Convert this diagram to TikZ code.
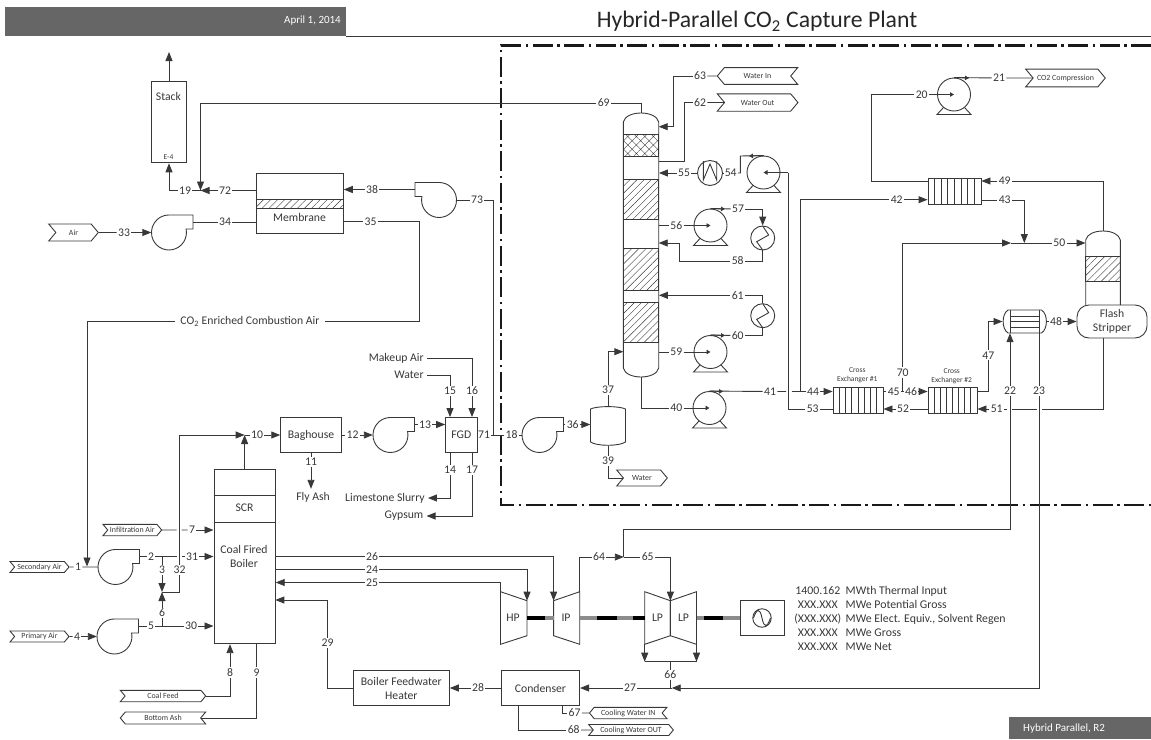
\documentclass[tikz,border=0pt]{standalone}
\usepackage{fontspec}
\setmainfont{Carlito}
\usepackage{xcolor}
\usetikzlibrary{arrows.meta, calc, positioning, shapes.symbols, patterns.meta}
\definecolor{linegray}{HTML}{383838}
\definecolor{headgray}{HTML}{666666}
\tikzstyle{pipe} = [line width=0.9pt, color=linegray]
\tikzstyle{arrow} = [pipe,-{Stealth[length=9pt,width=7pt,inset=0pt]}]
\tikzstyle{smallarrow} = [pipe,-{Stealth[length=4pt,width=4.5pt,inset=0pt]}]
\tikzset{
  eq/.style      = {draw = linegray, line width = 0.9pt, inner sep = 0pt, text = linegray},
  txt/.style     = {inner sep = 3pt, align = center, text = linegray, font = \fontsize{11.7}{14}\selectfont},
  num/.style     = {inner sep = 1.2pt, text = linegray, font = \fontsize{11.7}{14}\selectfont},
  tinytxt/.style = {inner sep = 0pt, align = center, text = linegray, font = \fontsize{7.5}{9}\selectfont},
  tagR/.style    = {eq, signal, signal to = east, signal from = west, signal pointer angle = 100,
                    font = \fontsize{7.9}{10}\selectfont},
  tagL/.style    = {eq, signal, signal to = west, signal from = east, signal pointer angle = 100,
                    font = \fontsize{7.9}{10}\selectfont},
  bed/.style     = {eq, pattern = {Lines[angle=45,distance=5pt,line width=0.4pt]}, pattern color = linegray},
  hxcirc/.style  = {eq, circle, minimum size = 24pt},
  shaftg/.style  = {line width = 3.2pt, color = black!45},
  shaftb/.style  = {line width = 3.2pt, color = black},
  fanR/.pic      = {
    \node[circle, minimum size = 35pt, inner sep = 0pt] (-c) {};
    \coordinate (-out) at (24,-10.5);
    \draw[pipe] (0,-17.5) -- (24,-17.5) -- (24,-3.5) -- (17.1,-3.5) arc (-11.5:270:17.5);
  },
  fanL/.pic      = {
    \node[circle, minimum size = 35pt, inner sep = 0pt] (-c) {};
    \coordinate (-out) at (-24,-10.5);
    \draw[pipe] (0,-17.5) -- (-24,-17.5) -- (-24,-3.5) -- (-17.1,-3.5) arc (191.5:-90:17.5);
  },
  pump/.pic      = {
    \node[eq, circle, minimum size = 33pt] (-c) {};
    \draw[pipe] (-10.5,13) -- (-17,20) -- (17,20) -- (10.5,13);
  }
}

\begin{document}
\begin{tikzpicture}[x=1pt,y=-1pt]
\useasboundingbox (0,0) rectangle (1151,739);

% Header and footer
\fill[headgray] (5,7) rectangle (346,36);
\draw[pipe] (346,36) -- (1151,36);
\node[anchor=east, inner sep=0pt, text=white, font=\fontsize{11}{13}\selectfont] (date) at (341,21) {April 1, 2014};
\node[inner sep=0pt, text=black!85, font=\fontsize{23.7}{26}\selectfont] (title) at (757,21) {Hybrid-Parallel CO\textsubscript{2} Capture Plant};
\fill[headgray] (1009,717) rectangle (1151,739);
\node[anchor=west, inner sep=0pt, text=white, font=\fontsize{11}{13}\selectfont] (rev) at (1023,729) {Hybrid Parallel, R2};

% Capture island boundary
\draw[line width=2.4pt, color=black!90, dash pattern=on 20pt off 4.5pt on 2.5pt off 4.5pt] (1151,45.3) -- (501,45.3) -- (501,504.7) -- (1151,504.7);

% Stack
\node[eq, minimum width=35.2pt, minimum height=81.7pt] (stack) at (169,122) {};
\node[txt] (stacktxt) at (168.5,96) {Stack};
\node[tinytxt] (e4) at (168.5,157) {E-4};
\coordinate (stackout) at (169,52);
\draw[arrow] (stack.north) -- (stackout);

% Membrane
\node[eq, minimum width=87pt, minimum height=60.4pt] (mem) at (299.8,203.5) {};
\node[bed, minimum width=87pt, minimum height=9pt] (membed) at (299.8,203.8) {};
\node[txt] (memtxt) at (299.5,217) {Membrane};

% Fans
\pic (f33) at (169,232.5) {fanR};
\pic (f73) at (439,200) {fanL};
\pic (f2) at (115.5,567) {fanR};
\pic (f5) at (114.5,636.5) {fanR};
\pic (f13) at (390.5,435) {fanR};
\pic (f36) at (539.5,435) {fanR};

% Absorber column
\node[inner sep=0pt, minimum width=35.4pt, minimum height=264pt] (abs) at (641,245) {};
\draw[pipe] (623.3,122) .. controls (626,110) and (656,110) .. (658.7,122) -- (658.7,368) .. controls (656,380) and (626,380) .. (623.3,368) -- cycle;
\node[eq, minimum width=35.4pt, minimum height=22pt, pattern={Hatch[angle=45,distance=6pt,line width=0.4pt]}, pattern color=linegray] (bed1) at (641,145) {};
\node[bed, minimum width=35.4pt, minimum height=40pt] (bed2) at (641,199) {};
\node[bed, minimum width=35.4pt, minimum height=42pt] (bed3) at (641,269) {};
\node[bed, minimum width=35.4pt, minimum height=40pt] (bed4) at (641,322) {};

% Pumps
\pic (p54) at (763.5,172.5) {pump};
\pic (p56) at (710.5,225.5) {pump};
\pic (p59) at (710.5,352) {pump};
\pic (p40) at (709.5,408) {pump};
\pic (p20) at (954,94.5) {pump};

% Coolers
\node[hxcirc, minimum size=25pt] (hxw) at (710,173) {};
\draw[pipe] (703.3,161) -- (703.3,180) -- (710,164) -- (716.7,180) -- (716.7,161);
\node[hxcirc] (hx1) at (762.7,238) {};
\draw[pipe] (762.7,226) -- (768.7,235) -- (756.7,241.7) -- (762.7,250);
\node[hxcirc] (hx2) at (762.7,315.7) {};
\draw[pipe] (762.7,303.7) -- (768.7,312.7) -- (756.7,319.4) -- (762.7,327.7);

% Knock-out drum
\node[inner sep=0pt, minimum width=35pt, minimum height=38.6pt] (drum) at (608,426) {};
\draw[pipe] (590.5,409) .. controls (597,405.8) and (619,405.8) .. (625.5,409) -- (625.5,442) .. controls (619,446.4) and (597,446.4) .. (590.5,442) -- cycle;

% Cross exchangers
\node[eq, minimum width=50pt, minimum height=26pt] (x1) at (858,400) {};
\draw[pipe] (839.25,387) -- (839.25,413) (845.5,387) -- (845.5,413) (851.75,387) -- (851.75,413) (858,387) -- (858,413) (864.25,387) -- (864.25,413) (870.5,387) -- (870.5,413) (876.75,387) -- (876.75,413);
\node[tinytxt] (x1txt) at (857.3,375.7) {Cross\\Exchanger \#1};
\node[eq, minimum width=49pt, minimum height=26pt] (x2) at (952.5,400) {};
\draw[pipe] (934.1,387) -- (934.1,413) (940.3,387) -- (940.3,413) (946.4,387) -- (946.4,413) (952.5,387) -- (952.5,413) (958.6,387) -- (958.6,413) (964.8,387) -- (964.8,413) (970.9,387) -- (970.9,413);
\node[tinytxt] (x2txt) at (951.7,376) {Cross\\Exchanger \#2};
\node[eq, minimum width=53pt, minimum height=26pt] (x3) at (954.5,191) {};
\draw[pipe] (934.6,178) -- (934.6,204) (941.2,178) -- (941.2,204) (947.9,178) -- (947.9,204) (954.5,178) -- (954.5,204) (961.1,178) -- (961.1,204) (967.8,178) -- (967.8,204) (974.4,178) -- (974.4,204);

% Stripper
\node[inner sep=0pt, minimum width=34.6pt, minimum height=74pt] (strip) at (1103,268) {};
\draw[pipe] (1085.7,305) -- (1085.7,240) .. controls (1088,228) and (1118,228) .. (1120.3,240) -- (1120.3,305);
\node[bed, minimum width=34.6pt, minimum height=25.7pt] (bed5) at (1103,269) {};
\node[eq, txt, inner sep=0pt, rounded corners=12pt, minimum width=70pt, minimum height=33pt] (tank) at (1112,321.5) {Flash\\Stripper};

% Reboiler
\node[inner sep=0pt, minimum width=44pt, minimum height=23pt] (reb) at (1024.7,321.5) {};
\draw[pipe] (1008,310) -- (1041.5,310) .. controls (1048,314) and (1048,329) .. (1041.5,333) -- (1008,333) .. controls (1001.5,329) and (1001.5,314) .. (1008,310);
\draw[pipe] (1010.7,310) -- (1010.7,333) (1039,310) -- (1039,333) (1010.7,316) -- (1039,316) (1010.7,321.7) -- (1039,321.7) (1010.7,327) -- (1039,327);

% Boiler
\node[eq, minimum width=61.3pt, minimum height=174.4pt] (boil) at (244.6,556.5) {};
\draw[pipe] (boil.west |- 0,495.3) -- (boil.east |- 0,495.3) (boil.west |- 0,522.3) -- (boil.east |- 0,522.3);
\node[txt] (scr) at (244.5,508) {SCR};
\node[txt] (boiltxt) at (244,556.5) {Coal Fired\\Boiler};

% Flue gas train
\node[eq, txt, inner sep=0pt, minimum width=60.6pt, minimum height=34.6pt] (bag) at (311,435) {Baghouse};
\node[eq, txt, inner sep=0pt, minimum width=31.3pt, minimum height=35pt] (fgd) at (461.3,435) {FGD};

% Feedwater heater and condenser
\node[eq, txt, inner sep=0pt, minimum width=96pt, minimum height=34.6pt] (heater) at (401.3,688) {Boiler Feedwater\\Heater};
\node[eq, txt, inner sep=0pt, minimum width=78.3pt, minimum height=35pt] (cond) at (540.5,688) {Condenser};

% Turbines
\draw[pipe] (500.5,591.7) -- (527,600.7) -- (527,635.7) -- (500.5,644.3) -- cycle;
\node[txt] (hp) at (513,618) {HP};
\draw[pipe] (553.6,600.7) -- (579.7,591.7) -- (579.7,644.3) -- (553.6,635.7) -- cycle;
\node[txt] (ip) at (566,618) {IP};
\draw[pipe] (644.7,591.7) -- (670.4,600.7) -- (670.4,635.7) -- (644.7,644.3) -- cycle;
\node[txt] (lpa) at (657.5,618) {LP};
\draw[pipe] (696.5,591.7) -- (670.4,600.7) -- (670.4,635.7) -- (696.5,644.3) -- cycle;
\node[txt] (lpb) at (683.5,618) {LP};

% Shaft
\draw[shaftb] (527,618) -- (545,618);
\draw[shaftg] (545,618) -- (553.6,618);
\draw[shaftg] (579.7,618) -- (597,618);
\draw[shaftb] (597,618) -- (617,618);
\draw[shaftg] (617,618) -- (633,618);
\draw[shaftb] (633,618) -- (644.7,618);
\draw[shaftg] (696.5,618) -- (704,618);
\draw[shaftb] (704,618) -- (723,618);
\draw[shaftg] (723,618) -- (740.2,618);

% Generator
\node[eq, minimum width=44pt, minimum height=35.4pt] (gen) at (762.2,618) {};
\node[eq, circle, minimum size=18.5pt] (gencirc) at (762,618) {};
\draw[pipe] (753.5,618) .. controls (757,608) and (760,608) .. (762,618) .. controls (764,628) and (767,628) .. (770.5,618);

% Performance summary
\node[inner sep=0pt, text=linegray, font=\fontsize{11.8}{13.9}\selectfont] (perf) at (900,620) {%
\begin{tabular}{@{}c@{\hspace{4.5pt}}l@{}}
1400.162 & MWth Thermal Input\\
XXX.XXX & MWe Potential Gross\\
(XXX.XXX) & MWe Elect. Equiv., Solvent Regen\\
XXX.XXX & MWe Gross\\
XXX.XXX & MWe Net
\end{tabular}};

% Off-page tags
\node[tagR, minimum width=49.6pt, minimum height=17pt] (air) at (73.5,232.5) {Air};
\node[tagR, minimum width=59pt, minimum height=11pt] (secair) at (39.5,567) {Secondary Air};
\node[tagR, minimum width=59pt, minimum height=11pt] (priair) at (39.5,636.5) {Primary Air};
\node[tagR, minimum width=58.7pt, minimum height=11.4pt] (infil) at (132.3,530) {Infiltration Air};
\node[tagR, minimum width=85.4pt, minimum height=11.4pt] (coal) at (163,696) {Coal Feed};
\node[tagL, minimum width=85.4pt, minimum height=12pt] (ash) at (163,718) {Bottom Ash};
\node[tagL, minimum width=80.4pt, minimum height=16.7pt] (watin) at (757.5,76) {Water In};
\node[tagR, minimum width=80.7pt, minimum height=17.4pt] (watout) at (757.6,102.5) {Water Out};
\node[tagR, minimum width=79.6pt, minimum height=17.7pt] (co2c) at (1065.5,78) {CO2 Compression};
\node[tagR, minimum width=50.6pt, minimum height=16pt] (watdrum) at (642,478) {Water};
\node[tagL, minimum width=77.5pt, minimum height=11.4pt] (cwin) at (628.2,713) {Cooling Water IN};
\node[tagR, minimum width=84.7pt, minimum height=11pt] (cwout) at (631,730) {Cooling Water OUT};

% Stream 33, 34, 38, 72, 19
\node[num] (s33) at (124,232.5) {33};
\draw[pipe] (air) -- (s33);
\draw[arrow] (s33) -- (f33-c);
\node[num] (s34) at (225,222) {34};
\draw[pipe] (f33-out) -- (s34) -- (mem.west |- s34);
\node[num] (s38) at (372,189.5) {38};
\draw[pipe] (f73-out) -- (s38);
\draw[arrow] (s38) -- (mem.east |- s38);
\coordinate (j19) at (200.5,190.5);
\node[num] (s72) at (225,190.5) {72};
\draw[pipe] (mem.west |- s72) -- (s72);
\draw[arrow] (s72) -- (j19);
\node[num] (s19) at (185,190.5) {19};
\draw[pipe] (j19) -- (s19);
\draw[arrow] (s19) -| (stack.south);

% Stream 69
\node[num] (s69) at (603.7,103) {69};
\draw[arrow] (s69) -| (j19);
\draw[pipe] (s69) -| (abs.north);

% Stream 35
\coordinate (c35) at (419,321.5);
\coordinate (j1) at (87,566.5);
\node[num] (s35) at (370.5,221.5) {35};
\node[txt, inner sep=5pt] (co2air) at (250,321.5) {CO\textsubscript{2} Enriched Combustion Air};
\draw[pipe] (mem.east |- s35) -- (s35);
\draw[pipe] (s35) -| (c35) -- (co2air);
\draw[arrow] (co2air) -| (j1);

% Stream 1, 2, 3, 31
\coordinate (j3) at (162,556.5);
\coordinate (j6) at (162,592);
\coordinate (c2a) at (176.7,556.5);
\coordinate (c2b) at (181.7,556.5);
\node[num] (s1) at (78,567) {1};
\draw[pipe] (secair) -- (s1) -- (f2-c);
\node[num] (s2) at (151,556.5) {2};
\draw[pipe] (f2-out) -- (s2) -- (c2a);
\node[num] (s3) at (162,570) {3};
\draw[pipe] (j3) -- (s3);
\draw[arrow] (s3) -- (j6);
\node[num] (s31) at (192,556.5) {31};
\draw[pipe] (c2b) -- (s31);
\draw[arrow] (s31) -- (boil.west |- s31);

% Stream 4, 5, 6, 30
\coordinate (j5) at (162,626);
\node[num] (s4) at (77,636.5) {4};
\draw[pipe] (priair) -- (s4);
\draw[arrow] (s4) -- (f5-c);
\node[num] (s5) at (151,626) {5};
\node[num] (s30) at (191,626) {30};
\draw[pipe] (f5-out) -- (s5) -- (s30);
\draw[arrow] (s30) -- (boil.west |- s30);
\node[num] (s6) at (162,613) {6};
\draw[pipe] (j5) -- (s6);
\draw[arrow] (s6) -- (j6);

% Stream 7
\coordinate (c7a) at (176.7,530);
\coordinate (c7b) at (181.7,530);
\node[num] (s7) at (192,530) {7};
\draw[pipe] (infil) -- (c7a) (c7b) -- (s7);
\draw[arrow] (s7) -- (boil.west |- s7);

% Stream 32, 10
\coordinate (j10) at (244.6,435);
\node[num] (s32) at (179.5,570) {32};
\draw[pipe] (j6) -| (s32);
\draw[arrow] (s32) |- (j10);
\draw[arrow] (boil.north) -- (j10);
\node[num] (s10) at (257,435) {10};
\draw[pipe] (j10) -- (s10);
\draw[arrow] (s10) -- (bag);

% Stream 8, 9
\node[num] (s8) at (230,672.5) {8};
\draw[pipe] (coal) -| (s8);
\draw[arrow] (s8) -- (boil.south -| s8);
\node[num] (s9) at (256.5,672.5) {9};
\draw[pipe] (boil.south -| s9) -- (s9);
\draw[pipe] (s9) |- (ash);

% Stream 11, 12, 13
\node[num] (s11) at (311,462) {11};
\node[txt] (flyash) at (313,497) {Fly Ash};
\draw[pipe] (bag.south -| s11) -- (s11);
\draw[arrow] (s11) -- (flyash.north -| s11);
\node[num] (s12) at (352.5,435) {12};
\draw[pipe] (bag) -- (s12);
\draw[arrow] (s12) -- (f13-c);
\node[num] (s13) at (425,424.5) {13};
\draw[pipe] (f13-out) -- (s13);
\draw[arrow] (s13) -- (fgd.west |- s13);

% Stream 15, 16
\node[txt] (water) at (409,375) {Water};
\node[num] (s15) at (450,391) {15};
\draw[pipe] (water) -| (s15);
\draw[arrow] (s15) -- (fgd.north -| s15);
\node[txt] (makeup) at (396.3,358) {Makeup Air};
\node[num] (s16) at (472,391) {16};
\draw[pipe] (makeup) -| (s16);
\draw[arrow] (s16) -- (fgd.north -| s16);

% Stream 14, 17
\node[txt] (lime) at (385,498) {Limestone Slurry};
\node[num] (s14) at (450,470) {14};
\draw[pipe] (fgd.south -| s14) -- (s14);
\draw[arrow] (s14) |- (lime);
\node[txt] (gyp) at (404,516) {Gypsum};
\node[num] (s17) at (472,470) {17};
\draw[pipe] (fgd.south -| s17) -- (s17);
\draw[arrow] (s17) |- (gyp);

% Stream 73, 71, 18, 36, 37, 39
\coordinate (c71) at (493,435);
\node[num] (s73) at (477,200) {73};
\draw[pipe] (f73-c) -- (s73);
\draw[pipe] (s73) -| (c71);
\node[num] (s71) at (484,435) {71};
\node[num] (s18) at (511.5,435) {18};
\draw[pipe] (fgd) -- (s71) -- (s18) -- (f36-c);
\node[num] (s36) at (572.7,424.5) {36};
\draw[pipe] (f36-out) -- (s36);
\draw[arrow] (s36) -- (drum.west |- s36);
\coordinate (t37) at (623.3,351.7);
\node[num] (s37) at (608,390) {37};
\draw[pipe] (drum.north) -- (s37);
\draw[arrow] (s37) |- (t37);
\node[num] (s39) at (608,461) {39};
\draw[pipe] (drum.south) -- (s39);
\draw[pipe] (s39) |- (watdrum);

% Stream 62, 63
\node[num] (s63) at (700,76) {63};
\coordinate (t63) at (658.7,126.7);
\draw[pipe] (watin) -- (s63);
\draw[arrow] (s63) -| ($(t63)+(14.3,0)$) -- (t63);
\node[num] (s62) at (700,102.5) {62};
\coordinate (c62) at (658.7,161.7);
\draw[pipe] (watout) -- (s62);
\draw[pipe] (s62) -| ($(c62)+(25.6,0)$) -- (c62);

% Stream 53, 54, 55
\coordinate (c53) at (788.3,172.5);
\coordinate (c54) at (740.3,156);
\coordinate (t54) at (749,156);
\node[num] (s53) at (812.7,409) {53};
\draw[pipe] (x1.west |- s53) -- (s53);
\draw[pipe] (s53) -| (c53);
\draw[smallarrow] (c53) -- (p54-c.center);
\node[num] (s54) at (730.7,173) {54};
\draw[pipe] (hxw) -- (s54);
\draw[pipe] (s54) -| (c54) -- (p54-c.north);
\draw[smallarrow] (p54-c.north) -- (t54);
\node[num] (s55) at (684,173) {55};
\draw[pipe] (hxw) -- (s55);
\draw[arrow] (s55) -- (abs.east |- s55);

% Stream 56, 57, 58
\coordinate (t57) at (725,209);
\node[num] (s56) at (676.3,225.5) {56};
\draw[pipe] (abs.east |- s56) -- (s56);
\draw[smallarrow] (s56) -- (p56-c.center);
\node[num] (s57) at (738,209) {57};
\draw[pipe] (p56-c.north) -- (s57);
\draw[smallarrow] (p56-c.north) -- (t57);
\draw[arrow] (s57) -| (hx1.north);
\coordinate (c58) at (679.3,261);
\coordinate (t58) at (658.7,243);
\node[num] (s58) at (737.7,261) {58};
\draw[pipe] (hx1.south) |- (s58);
\draw[arrow] (s58) -| (c58) |- (t58);

% Stream 59, 60, 61
\coordinate (t60) at (725,335.5);
\node[num] (s59) at (676.3,352) {59};
\draw[pipe] (abs.east |- s59) -- (s59);
\draw[smallarrow] (s59) -- (p59-c.center);
\node[num] (s60) at (737.7,335.5) {60};
\draw[pipe] (p59-c.north) -- (s60);
\draw[smallarrow] (p59-c.north) -- (t60);
\draw[pipe] (s60) -| (hx2.south);
\node[num] (s61) at (737.7,295.3) {61};
\draw[pipe] (s61) -| (hx2.north);
\draw[arrow] (s61) -- (abs.east |- s61);

% Stream 40, 41, 42, 44
\node[num] (s40) at (676.3,408) {40};
\draw[pipe] (abs.south) |- (s40);
\draw[smallarrow] (s40) -- (p40-c.center);
\coordinate (t41) at (723,391.5);
\coordinate (c41a) at (786,391.5);
\coordinate (c41b) at (791.7,391.5);
\coordinate (c42) at (800.7,391.5);
\node[num] (s41) at (770,391.5) {41};
\draw[pipe] (p40-c.north) -- (s41) -- (c41a);
\draw[smallarrow] (p40-c.north) -- (t41);
\node[num] (s44) at (813,391.5) {44};
\draw[pipe] (c41b) -- (s44);
\draw[arrow] (s44) -- (x1.west |- s44);
\node[num] (s42) at (896.7,199.7) {42};
\draw[pipe] (c42) |- (s42);
\draw[arrow] (s42) -- (x3.west |- s42);

% Stream 45, 46, 52, 70
\coordinate (c70) at (902.7,391.5);
\node[num] (s45) at (893.7,391.5) {45};
\node[num] (s46) at (911,391.5) {46};
\draw[pipe] (x1.east |- s45) -- (s45) -- (s46);
\draw[arrow] (s46) -- (x2.west |- s46);
\node[num] (s52) at (903,409) {52};
\draw[pipe] (x2.west |- s52) -- (s52);
\draw[arrow] (s52) -- (x1.east |- s52);
\coordinate (j70) at (1011,243);
\coordinate (j50) at (1024.3,243);
\node[num] (s70) at (902.7,372.3) {70};
\draw[pipe] (c70) -- (s70);
\draw[arrow] (s70) |- (j70);

% Stream 43, 49, 50, 20, 21
\node[num] (s43) at (1004.7,200) {43};
\draw[pipe] (x3.east |- s43) -- (s43);
\draw[arrow] (s43) -| (j50);
\node[num] (s50) at (1059.3,243) {50};
\draw[pipe] (j70) -- (s50);
\draw[arrow] (s50) -- (strip.west |- s50);
\node[num] (s49) at (1004.7,181) {49};
\draw[arrow] (s49) -- (x3.east |- s49);
\draw[pipe] (s49) -| (strip.north);
\coordinate (c20) at (871.7,94.5);
\coordinate (t21) at (969,78);
\node[num] (s20) at (921.7,94.5) {20};
\draw[pipe] (x3.west |- s49) -| (c20) -- (s20);
\draw[smallarrow] (s20) -- (p20-c.center);
\node[num] (s21) at (999,78) {21};
\draw[pipe] (p20-c.north) -- (s21) -- (co2c);
\draw[smallarrow] (p20-c.north) -- (t21);

% Stream 47, 48, 51
\node[num] (s47) at (988.3,355.3) {47};
\draw[pipe] (x2.east |- s46) -| (s47);
\draw[arrow] (s47) |- (reb.west);
\node[num] (s48) at (1056,321.5) {48};
\draw[pipe] (reb.east) -- (s48);
\draw[arrow] (s48) -- (tank);
\coordinate (c51a) at (1041.5,409);
\coordinate (c51b) at (1036.5,409);
\coordinate (c51c) at (1012,409);
\coordinate (c51d) at (1007,409);
\node[num] (s51) at (996.7,409) {51};
\draw[pipe] (strip.south |- tank.south) |- (c51a) (c51b) -- (c51c) (c51d) -- (s51);
\draw[arrow] (s51) -- (x2.east |- s51);

% Stream 24, 25, 26, 29
\coordinate (hpin) at (527,600.7);
\coordinate (hpl) at (500.5,591.7);
\coordinate (ipin) at (553.6,600.7);
\coordinate (ipout) at (579.7,591.7);
\coordinate (t29) at (275.3,600);
\node[num] (s26) at (372,556.5) {26};
\draw[pipe] (boil.east |- s26) -- (s26);
\draw[arrow] (s26) -| (ipin);
\node[num] (s24) at (372,569.5) {24};
\draw[pipe] (boil.east |- s24) -- (s24);
\draw[arrow] (s24) -| (hpin);
\node[num] (s25) at (372,582.5) {25};
\draw[pipe] (hpl) |- (s25);
\draw[arrow] (s25) -- (boil.east |- s25);
\node[num] (s29) at (327.5,643) {29};
\draw[pipe] (heater.west) -| (s29);
\draw[arrow] (s29) |- (t29);

% Stream 64, 65, 22, 23
\coordinate (j64) at (623.8,557);
\coordinate (lpin) at (670.4,600.7);
\coordinate (c22) at (1010,529.5);
\node[num] (s64) at (599,557) {64};
\draw[pipe] (ipout) |- (s64);
\draw[arrow] (s64) -- (j64);
\node[num] (s65) at (647.7,557) {65};
\draw[pipe] (j64) -- (s65);
\draw[arrow] (s65) -| (lpin);
\node[num] (s22) at (1010,391) {22};
\draw[pipe] (j64) |- (c22) -- (s22);
\draw[arrow] (s22) -- (reb.south -| s22);
\coordinate (t27) at (671.7,688);
\node[num] (s23) at (1039,391) {23};
\draw[pipe] (reb.south -| s23) -- (s23);
\draw[arrow] (s23) |- (t27);

% Stream 66, 27, 28
\coordinate (lpa1) at (644.7,644.3);
\coordinate (lpa2) at (644.7,661.7);
\coordinate (lpb1) at (696.5,644.3);
\coordinate (lpb2) at (696.5,661.7);
\coordinate (c66) at (670.4,661.7);
\coordinate (j27) at (670.4,688);
\draw[arrow] (lpa1) -- (lpa2);
\draw[arrow] (lpb1) -- (lpb2);
\draw[pipe] (lpa2) -- (lpb2);
\node[num] (s66) at (670.4,675) {66};
\draw[pipe] (c66) -- (s66) -- (j27);
\node[num] (s27) at (630,688) {27};
\draw[pipe] (t27) -- (s27);
\draw[arrow] (s27) -- (cond.east |- s27);
\node[num] (s28) at (478,688) {28};
\draw[pipe] (cond) -- (s28);
\draw[arrow] (s28) -- (heater);

% Stream 67, 68
\coordinate (c67) at (562.6,713);
\coordinate (c68) at (518.5,730);
\node[num] (s67) at (574.6,713) {67};
\draw[pipe] (cond.south -| c67) |- (s67);
\draw[pipe] (s67) -- (cwin);
\node[num] (s68) at (573.7,730) {68};
\draw[pipe] (cond.south -| c68) |- (s68);
\draw[pipe] (s68) -- (cwout);

\end{tikzpicture}
\end{document}
